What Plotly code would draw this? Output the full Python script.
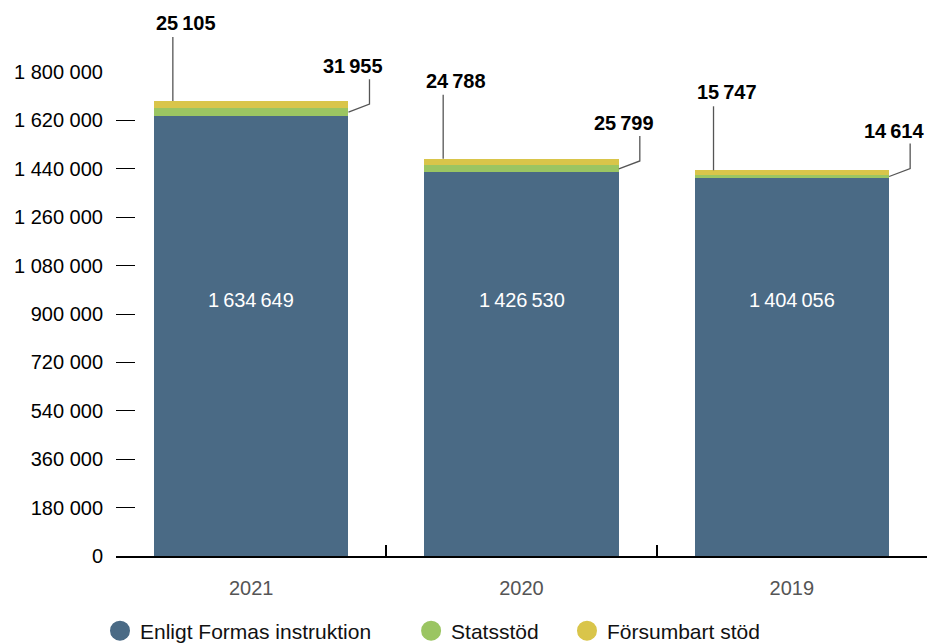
import plotly.graph_objects as go

years = ["2021", "2020", "2019"]
formas = [1634649, 1426530, 1404056]
statsstod = [31955, 25799, 14614]
forsumbart = [25105, 24788, 15747]
series_names = ["Enligt Formas instruktion", "Statsstöd", "Försumbart stöd"]
colors = ["#4a6a85", "#9bc562", "#d9c54a"]
yticks = [0, 180000, 360000, 540000, 720000, 900000, 1080000, 1260000, 1440000, 1620000, 1800000]

FONT = "Liberation Sans, Arial, Helvetica, sans-serif"
W, H = 931, 643
ML, MR, MT, MB = 116, 4, 72, 87
PW, PH = W - ML - MR, H - MT - MB
YMAX = 1800000
BW = 0.72
NCAT = len(years)


def px_x(px):          # horizontal pixels -> paper units
    return px / PW


def px_y(px):          # vertical pixels -> paper units
    return px / PH


def cat_x(x):          # category position -> paper
    return (x + 0.5) / NCAT


def val_y(v):          # value -> paper
    return v / YMAX


def fmt(v):
    return f"{v:,}".replace(",", "\u2009")


fig = go.Figure()
for vals, name, col in zip([formas, statsstod, forsumbart], series_names, colors):
    fig.add_trace(go.Bar(x=years, y=vals, name=name, marker_color=col,
                         marker_line_width=0, width=BW, showlegend=False,
                         hoverinfo="skip"))

pads = ["\u00a0" * 6, "\u00a0" * 4, ""]
for name, col, pad in zip(series_names, colors, pads):
    fig.add_trace(go.Scatter(x=[None], y=[None], mode="markers", name=name + pad,
                             marker=dict(color=col, size=22, symbol="circle",
                                         line=dict(color=col, width=4))))

annotations = []
shapes = []
LINE = dict(color="#555", width=1.3)
for i, yr in enumerate(years):
    top = formas[i] + statsstod[i] + forsumbart[i]
    left = cat_x(i - BW / 2)
    right = cat_x(i + BW / 2)
    # inside value
    annotations.append(dict(x=cat_x(i), y=val_y(952000), xref="paper", yref="paper",
                            xanchor="center", yanchor="middle",
                            text=fmt(formas[i]), showarrow=False,
                            font=dict(color="white", size=20, family=FONT)))
    # top label (försumbart stöd)
    lx = left + px_x(19)
    ty = val_y(top)
    shapes.append(dict(type="line", xref="paper", yref="paper", x0=lx, x1=lx,
                       y0=ty, y1=ty + px_y(64), line=LINE))
    annotations.append(dict(x=left + px_x(0), y=ty + px_y(78), xref="paper", yref="paper",
                            xanchor="left", yanchor="middle",
                            text="<b>" + fmt(forsumbart[i]) + "</b>", showarrow=False,
                            font=dict(color="black", size=20, family=FONT)))
    # right label (statsstöd)
    gm = val_y(formas[i] + statsstod[i] / 2)
    ex = right + px_x(21)
    shapes.append(dict(type="path", xref="paper", yref="paper",
                       path=f"M {right},{gm} L {ex},{gm + px_y(8)} L {ex},{gm + px_y(33)}",
                       line=LINE))
    annotations.append(dict(x=ex + px_x(16), y=gm + px_y(46), xref="paper", yref="paper",
                            xanchor="right", yanchor="middle",
                            text="<b>" + fmt(statsstod[i]) + "</b>", showarrow=False,
                            font=dict(color="black", size=20, family=FONT)))

fig.update_layout(
    width=W, height=H,
    barmode="stack",
    bargap=1 - BW,
    plot_bgcolor="white", paper_bgcolor="white",
    margin=dict(l=ML, r=MR, t=MT, b=MB, autoexpand=False),
    separators=", ",
    font=dict(family=FONT, size=20, color="black"),
    annotations=annotations,
    shapes=shapes,
    legend=dict(orientation="h", xref="container", yref="container",
                x=100 / W, xanchor="left", y=1 - 631 / H, yanchor="middle",
                traceorder="normal", font=dict(size=21, color="#111"),
                itemsizing="trace"),
    xaxis=dict(type="category", range=[-0.5, NCAT - 0.5], tickson="boundaries",
               ticks="inside", ticklen=11, tickwidth=2, tickcolor="black",
               showline=True, linecolor="black", linewidth=2, showgrid=False,
               zeroline=False, automargin=False,
               tickfont=dict(size=20, color="#555"), ticklabelstandoff=13),
    yaxis=dict(range=[0, YMAX], tickvals=yticks, tickformat=",d", ticks="inside",
               ticklen=19, tickwidth=1, tickcolor="black", showline=False,
               showgrid=False, zeroline=False, automargin=False,
               tickfont=dict(size=20, color="black"), ticklabelstandoff=12),
)

fig.write_html("out.html", config={"displayModeBar": False},
               post_script="document.body.style.margin='0';")
